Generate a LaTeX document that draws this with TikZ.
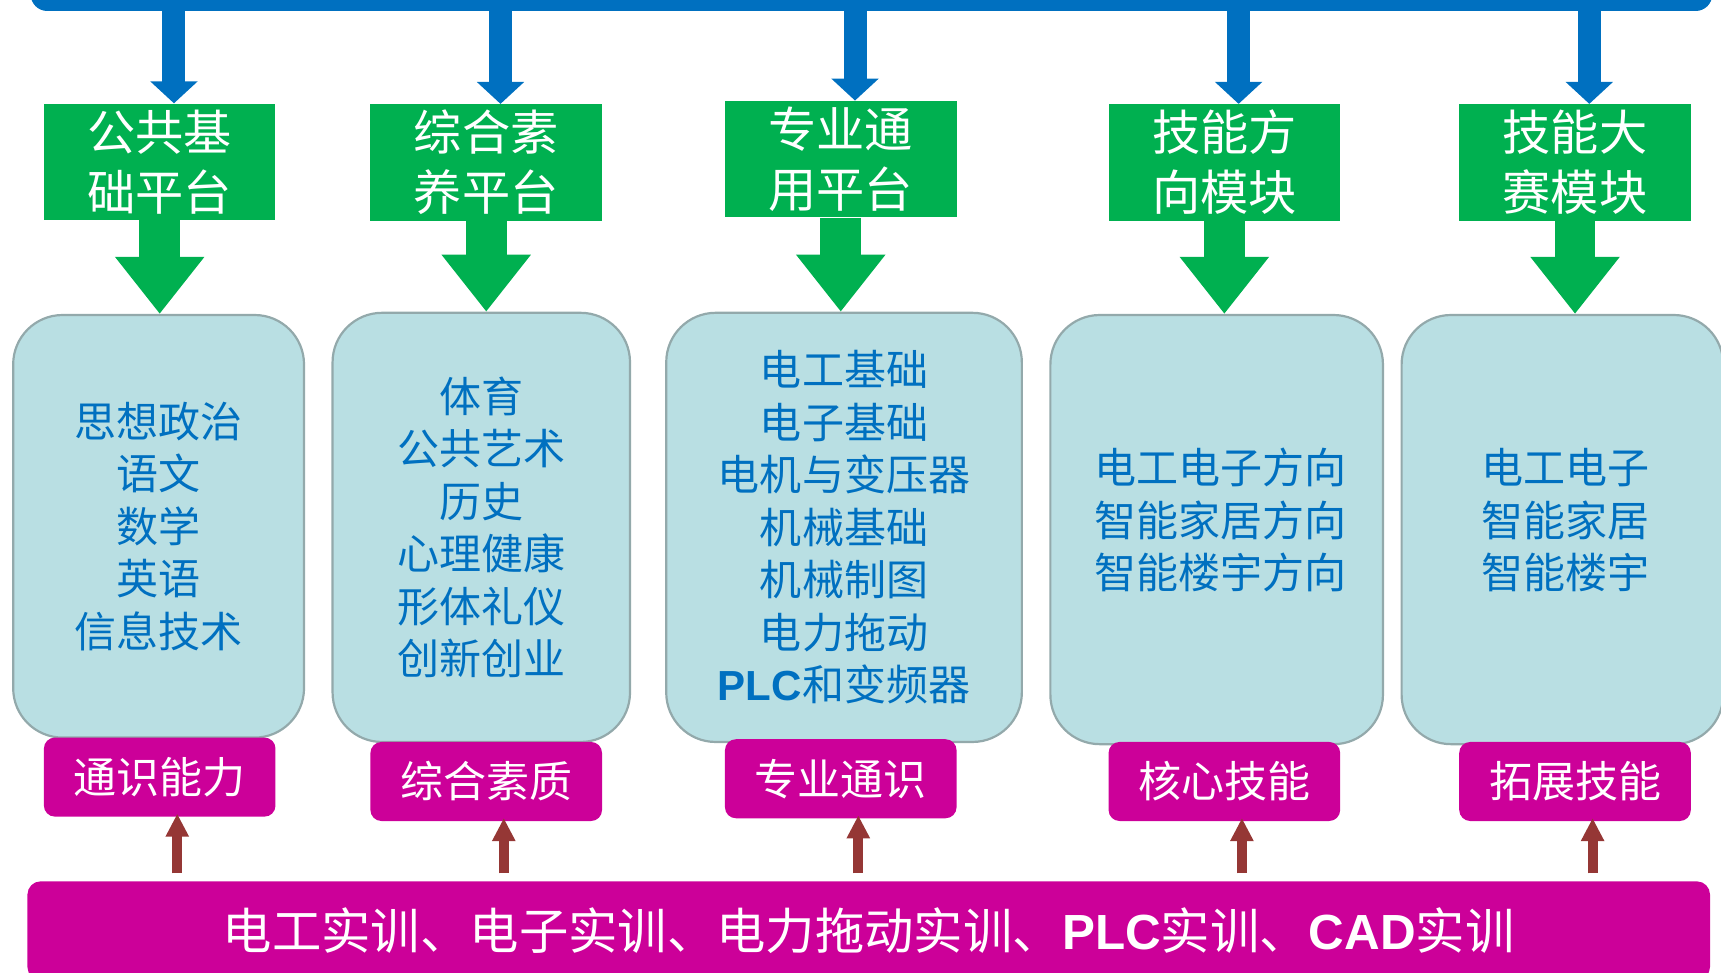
\documentclass[tikz,border=0pt]{standalone}
\usepackage{fontspec}
\setmainfont{Noto Sans CJK SC}
\newfontfamily\lat{Liberation Sans}
\usetikzlibrary{arrows.meta,calc}
\newlength\pu
\setlength\pu{0.02cm}
\definecolor{cblue}{HTML}{0070C0}
\definecolor{cgreen}{HTML}{00B050}
\definecolor{clight}{HTML}{B9DFE3}
\definecolor{cborder}{HTML}{93A9AB}
\definecolor{cmag}{HTML}{CC0099}
\definecolor{cred}{HTML}{953735}
\definecolor{ctext}{HTML}{0070C0}
\tikzset{
 gbox/.style={fill=cgreen, text=white, minimum width=211\pu, minimum height=106\pu, align=center, inner sep=0pt, font=\fontsize{25}{31.2}\selectfont},
 lbox/.style={fill=clight, draw=cborder, line width=2\pu, rounded corners=45\pu, text=ctext, align=center, inner sep=0pt, font=\fontsize{21.8}{27.2}\selectfont},
 ltext/.style={text=ctext, align=center, inner sep=0pt, font=\fontsize{21.8}{27.2}\selectfont},
 mbox/.style={fill=cmag, text=white, rounded corners=10\pu, minimum width=211\pu, minimum height=72\pu, inner sep=0pt, font=\fontsize{22.3}{26}\selectfont},
 barrow/.style={line width=0.42cm, draw=cblue, -{Triangle[width=0.84cm,length=0.4cm]}},
 garrow/.style={line width=0.74cm, draw=cgreen, -{Triangle[width=1.56cm,length=1.04cm]}},
 rarrow/.style={line width=0.18cm, draw=cred, -{Triangle[width=0.4cm,length=0.42cm]}},
}
\begin{document}
\begin{tikzpicture}[x=0.02cm,y=-0.02cm]
\useasboundingbox (0,0) rectangle (1568,886);
% top bar
\node[fill=cblue, rounded corners=15\pu, minimum width=1532\pu, minimum height=40\pu, inner sep=0pt] (bar) at (794,-10) {};
% green boxes
\node[gbox] (g1) at (145.5,147.5) {公共基\\础平台};
\node[gbox] (g2) at (443,148) {综合素\\养平台};
\node[gbox] (g3) at (766,145) {专业通\\用平台};
\node[gbox] (g4) at (1115.5,148) {技能方\\向模块};
\node[gbox] (g5) at (1435,148) {技能大\\赛模块};
% light boxes
\node[lbox, minimum width=265\pu, minimum height=385\pu] (l1) at (144.5,479.5) {思想政治\\语文\\数学\\英语\\信息技术};
\node[lbox, minimum width=271\pu, minimum height=391\pu] (l2) at (438.5,480.5) {体育\\公共艺术\\历史\\心理健康\\形体礼仪\\创新创业};
\node[lbox, minimum width=324\pu, minimum height=391\pu] (l3) at (769,480.5) {电工基础\\电子基础\\电机与变压器\\机械基础\\机械制图\\电力拖动\\{\lat\bfseries PLC}和变频器};
\node[lbox, minimum width=303\pu, minimum height=391\pu] (l4) at (1108.5,482.5) {};
\node[ltext] (t4) at (1112,474) {电工电子方向\\智能家居方向\\智能楼宇方向};
\node[lbox, minimum width=293\pu, minimum height=391\pu] (l5) at (1423.5,482.5) {};
\node[ltext] (t5) at (1426,474) {电工电子\\智能家居\\智能楼宇};
% magenta boxes
\node[mbox] (m1) at (145.5,708) {通识能力};
\node[mbox] (m2) at (443,712) {综合素质};
\node[mbox] (m3) at (766,709.5) {专业通识};
\node[mbox] (m4) at (1115.5,712) {核心技能};
\node[mbox] (m5) at (1435,712) {拓展技能};
% bottom bar
\node[fill=cmag, text=white, rounded corners=12\pu, minimum width=1533\pu, minimum height=90\pu, inner sep=0pt, font=\fontsize{25.6}{30}\selectfont] (bot) at (791.5,848) {电工实训、电子实训、电力拖动实训、{\lat\bfseries PLC}实训、{\lat\bfseries CAD}实训};
% arrows
\foreach \i in {1,...,5}{
  \draw[barrow] ($(g\i.north|-bar.south)+(13,-1)$) -- ($(g\i.north)+(13,0)$);
  \draw[garrow] (g\i.south) -- (g\i.south|-l\i.north);
  \draw[rarrow] ($(m\i.south|-bot.north)+(16,-7)$) -- ($(m\i.south)+(16,-3)$);
}
\end{tikzpicture}
\end{document}
